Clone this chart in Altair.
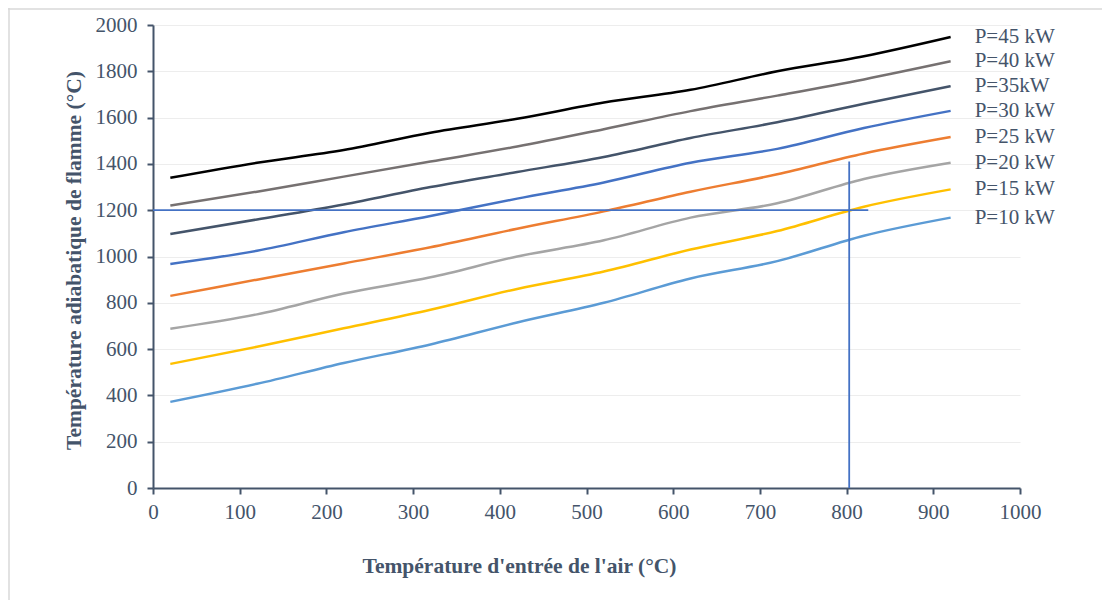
import altair as alt
import pandas as pd

# Air inlet temperature (°C)
x_vals = [20, 120, 220, 320, 420, 520, 620, 720, 820, 920]

series_names = ["P=45 kW", "P=40 kW", "P=35kW", "P=30 kW", "P=25 kW", "P=20 kW", "P=15 kW", "P=10 kW"]
p45 = [1340, 1405, 1460, 1535, 1595, 1665, 1720, 1800, 1865, 1948]
p40 = [1220, 1280, 1345, 1410, 1475, 1550, 1628, 1695, 1765, 1843]
p35 = [1097, 1160, 1225, 1300, 1365, 1430, 1512, 1580, 1660, 1736]
p30 = [968, 1025, 1105, 1175, 1250, 1320, 1405, 1465, 1555, 1629]
p25 = [830, 900, 970, 1040, 1120, 1195, 1280, 1355, 1445, 1516]
p20 = [688, 750, 840, 910, 1000, 1070, 1168, 1230, 1335, 1405]
p15 = [536, 610, 690, 770, 860, 935, 1030, 1110, 1215, 1290]
p10 = [372, 450, 540, 620, 715, 800, 905, 980, 1090, 1168]
series_vals = [p45, p40, p35, p30, p25, p20, p15, p10]
colors = ["#000000", "#767171", "#44546A", "#4472C4", "#ED7D31", "#A5A5A5", "#FFC000", "#5B9BD5"]

# reference (reading) lines
h_line_y = [1200]
h_line_x = [0, 825]
v_line_x = [803]
v_line_y = [0, 1410]

rows = []
for name, vals in zip(series_names, series_vals):
    for xv, yv in zip(x_vals, vals):
        rows.append({"T": xv, "Tad": yv, "serie": name})
df = pd.DataFrame(rows)
last = df.groupby("serie", sort=False).tail(1)

text_color = "#44546A"
font = "Liberation Serif"

xscale = alt.Scale(domain=[0, 1000], nice=False)
yscale = alt.Scale(domain=[0, 2000], nice=False)
cscale = alt.Scale(domain=series_names, range=colors)

lines = alt.Chart(df).mark_line(strokeWidth=2.5, interpolate="monotone").encode(
    x=alt.X("T:Q", scale=xscale,
            axis=alt.Axis(values=list(range(0, 1001, 100)), format="d",
                          title="Température d'entrée de l'air (°C)",
                          titleFont=font, labelFont=font, labelFlush=False, labelPadding=7,
                          grid=False, titleX=366, titleY=78, titleBaseline="middle", titleAnchor="middle")),
    y=alt.Y("Tad:Q", scale=yscale,
            axis=alt.Axis(values=list(range(0, 2001, 200)), format="d",
                          title="Température adiabatique de flamme (°C)",
                          titleFont=font, labelFont=font, labelPadding=10,
                          grid=True, titleX=-79, titleBaseline="middle", titleY=235)),
    color=alt.Color("serie:N", scale=cscale, legend=None),
    detail="serie:N",
)

labels = alt.Chart(last).mark_text(align="left", baseline="middle", dx=24, font=font,
                                   fontSize=21, color=text_color).encode(
    x=alt.X("T:Q", scale=xscale),
    y=alt.Y("Tad:Q", scale=yscale),
    text="serie:N",
)

hdf = pd.DataFrame({"x": [h_line_x[0]], "x2": [h_line_x[1]], "y": h_line_y})
vdf = pd.DataFrame({"x": v_line_x, "y": [v_line_y[0]], "y2": [v_line_y[1]]})

hrule = alt.Chart(hdf).mark_rule(color="#4472C4", strokeWidth=1.8).encode(
    x=alt.X("x:Q", scale=xscale), x2="x2:Q", y=alt.Y("y:Q", scale=yscale))
vrule = alt.Chart(vdf).mark_rule(color="#4472C4", strokeWidth=1.8).encode(
    x=alt.X("x:Q", scale=xscale), y=alt.Y("y:Q", scale=yscale), y2="y2:Q")

frame_top = alt.Chart(hdf).mark_rule(color="#D9D9D9", strokeWidth=1.5).encode(
    x=alt.value(-145), x2=alt.value(950), y=alt.value(-16))
frame_left = alt.Chart(hdf).mark_rule(color="#D9D9D9", strokeWidth=1.5).encode(
    x=alt.value(-144), y=alt.value(-17), y2=alt.value(580))

chart = alt.layer(lines, hrule, vrule, labels, frame_top, frame_left).properties(
    width=867, height=463,
    autosize=alt.AutoSizeParams(type="none"),
    padding={"left": 145, "top": 17, "right": 82, "bottom": 112},
).configure_view(stroke=None).configure_axis(
    labelFont=font, titleFont=font, labelFontSize=21, titleFontSize=21.5,
    labelColor=text_color, titleColor=text_color, titleFontWeight="bold",
    domainColor=text_color, domainWidth=2, tickColor=text_color, tickWidth=2, tickSize=6,
    gridColor="#EDEDED", gridWidth=1,
)

chart.save("out.html", embed_options={"renderer": "svg", "actions": False})
